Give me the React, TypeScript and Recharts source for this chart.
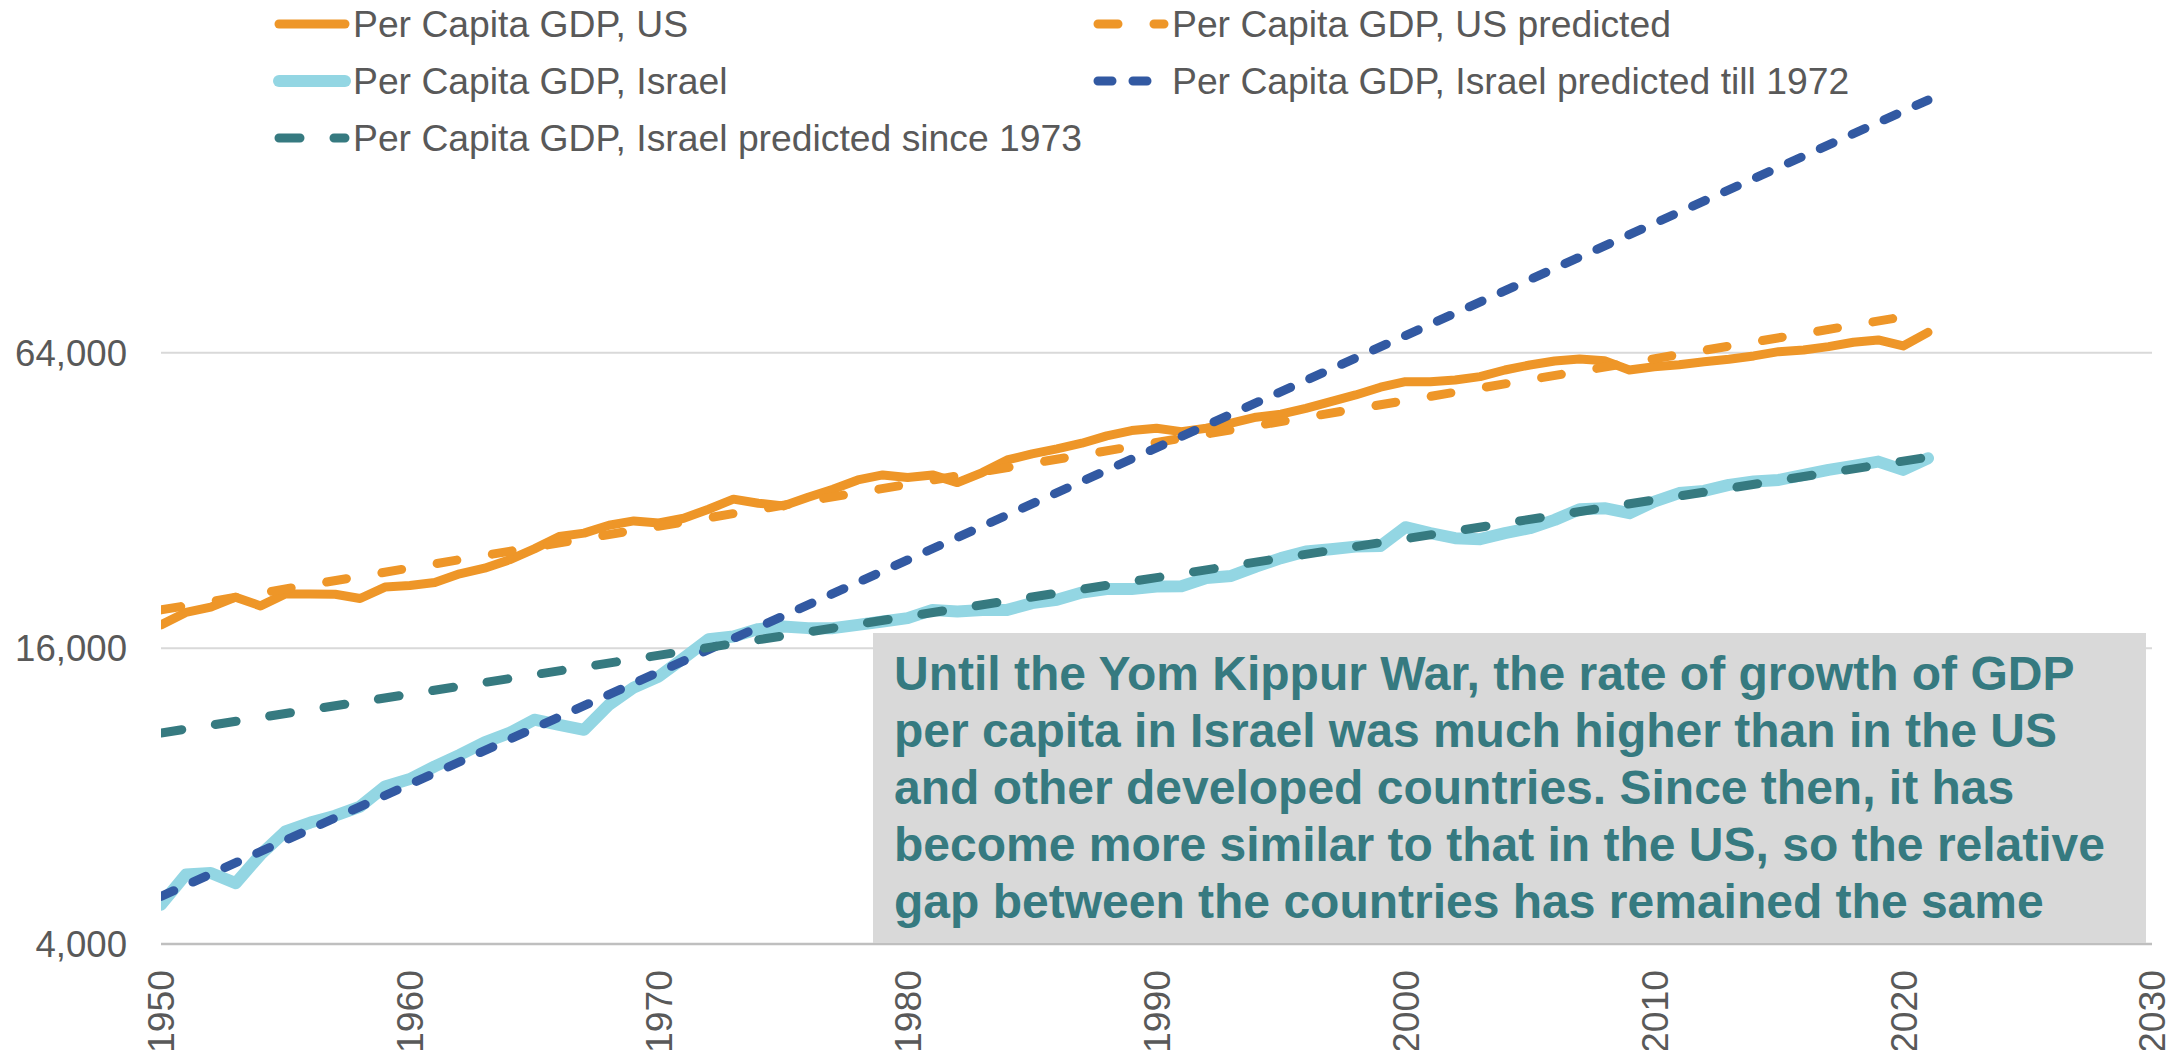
import React from 'react';
import { LineChart, Line, XAxis, YAxis, ReferenceLine } from 'recharts';

// ---------- data ----------
const years = [
  1950, 1951, 1952, 1953, 1954, 1955, 1956, 1957, 1958, 1959,
  1960, 1961, 1962, 1963, 1964, 1965, 1966, 1967, 1968, 1969,
  1970, 1971, 1972, 1973, 1974, 1975, 1976, 1977, 1978, 1979,
  1980, 1981, 1982, 1983, 1984, 1985, 1986, 1987, 1988, 1989,
  1990, 1991, 1992, 1993, 1994, 1995, 1996, 1997, 1998, 1999,
  2000, 2001, 2002, 2003, 2004, 2005, 2006, 2007, 2008, 2009,
  2010, 2011, 2012, 2013, 2014, 2015, 2016, 2017, 2018, 2019,
  2020, 2021,
];

const usGdp = [
  17860, 18930, 19410, 20340, 19520, 20650, 20650, 20620, 20210, 21320,
  21480, 21780, 22690, 23300, 24230, 25510, 27020, 27460, 28500, 29080,
  28800, 29450, 30720, 32200, 31600, 31200, 32500, 33740, 35240, 36080,
  35630, 36080, 34800, 36480, 38710, 39810, 40760, 41860, 43320, 44410,
  44910, 44200, 44910, 45970, 47280, 47950, 49310, 50870, 52490, 54430,
  55870, 55870, 56310, 57190, 59010, 60410, 61550, 62140, 61650, 59010,
  59930, 60500, 61350, 62050, 63030, 64300, 64810, 65830, 67190, 67930,
  66050, 70400,
];

const israelGdp = [
  4810, 5540, 5580, 5320, 6080, 6780, 7070, 7300, 7620, 8370,
  8670, 9200, 9710, 10290, 10760, 11450, 11180, 10920, 12280, 13320,
  14020, 15280, 16700, 16910, 17510, 17720, 17590, 17590, 17860, 18140,
  18430, 19160, 19020, 19160, 19160, 19780, 20090, 20780, 21120, 21120,
  21380, 21400, 22240, 22470, 23480, 24420, 25190, 25470, 25780, 25850,
  28240, 27460, 26820, 26690, 27460, 28100, 29220, 30720, 30870, 30150,
  31840, 33130, 33480, 34430, 34970, 35240, 36080, 36940, 37640, 38400,
  36940, 39020,
];

// trend lines (straight on the log scale): first and last year
const trendYears = [1950, 2021];
const usPredicted = [19160, 77200];
const israelPredictedTill1972 = [5000, 209200];
const israelPredictedSince1973 = [10760, 39200];

const xTicks = [1950, 1960, 1970, 1980, 1990, 2000, 2010, 2020, 2030];
const yTicks = [4000, 16000, 64000];
const yDomain = [4000, 256000];

const seriesNames = [
  'Per Capita GDP, US',
  'Per Capita GDP, US predicted',
  'Per Capita GDP, Israel',
  'Per Capita GDP, Israel predicted till 1972',
  'Per Capita GDP, Israel predicted since 1973',
];

const noteLines = [
  'Until the Yom Kippur War, the rate of growth of GDP',
  'per capita in Israel was much higher than in the US',
  'and other developed countries. Since then, it has',
  'become more similar to that in the US, so the relative',
  'gap between the countries has remained the same',
];

// ---------- build tables ----------
const usData = years.map((year, i) => ({ year, v: usGdp[i] }));
const israelData = years.map((year, i) => ({ year, v: israelGdp[i] }));
const usPredData = trendYears.map((year, i) => ({ year, v: usPredicted[i] }));
const ilTillData = trendYears.map((year, i) => ({ year, v: israelPredictedTill1972[i] }));
const ilSinceData = trendYears.map((year, i) => ({ year, v: israelPredictedSince1973[i] }));

// ---------- styles ----------
const FONT = '"Liberation Sans", Arial, sans-serif';
const TEXT_GRAY = '#595959';
const ORANGE = '#EE9628';
const LIGHT_BLUE = '#93D6E3';
const DARK_BLUE = '#3259A2';
const TEAL = '#367A80';

const seriesStyles = [
  { color: ORANGE, width: 9, dash: undefined as string | undefined },
  { color: ORANGE, width: 9, dash: '20 36' },
  { color: LIGHT_BLUE, width: 12, dash: undefined as string | undefined },
  { color: DARK_BLUE, width: 9, dash: '14 21' },
  { color: TEAL, width: 9, dash: '21 34' },
];

const W = 2184;
const H = 1050;

const XTick = (props: any) => {
  const { x, y, payload } = props;
  return (
    <text
      x={0}
      y={0}
      dy="0.36em"
      transform={`translate(${x},${y}) rotate(-90)`}
      textAnchor="end"
      fill={TEXT_GRAY}
      fontSize={37.3}
      fontFamily={FONT}
    >
      {payload.value}
    </text>
  );
};

const Legend = () => {
  const colX = [274, 1093];
  const rowY = [24, 81, 138];
  const placement = [
    [0, 0],
    [1, 0],
    [0, 1],
    [1, 1],
    [0, 2],
  ];
  return (
    <svg
      width={W}
      height={180}
      style={{ position: 'absolute', left: 0, top: 0, pointerEvents: 'none' }}
    >
      {seriesNames.map((name, i) => {
        const [c, r] = placement[i];
        const x = colX[c];
        const y = rowY[r];
        const st = seriesStyles[i];
        return (
          <g key={name}>
            <line
              x1={x + 5}
              x2={x + 71}
              y1={y}
              y2={y}
              stroke={st.color}
              strokeWidth={st.width}
              strokeDasharray={st.dash}
              strokeLinecap="round"
            />
            <text
              x={x + 79}
              y={y + 13.4}
              fill={TEXT_GRAY}
              fontSize={37.3}
              fontFamily={FONT}
            >
              {name}
            </text>
          </g>
        );
      })}
    </svg>
  );
};

const Note = () => (
  <div
    style={{
      position: 'absolute',
      left: 873,
      top: 633,
      width: 1273,
      height: 310,
      boxSizing: 'border-box',
      background: '#D9D9D9',
      paddingLeft: 21,
      paddingTop: 12,
      fontFamily: FONT,
      fontWeight: 'bold',
      fontSize: 48,
      lineHeight: '57px',
      color: TEAL,
    }}
  >
    {noteLines.map((l) => (
      <div key={l} style={{ whiteSpace: 'nowrap' }}>
        {l}
      </div>
    ))}
  </div>
);

export default function App() {
  const datasets = [usData, usPredData, israelData, ilTillData, ilSinceData];
  return (
    <div
      style={{
        position: 'fixed',
        left: 0,
        top: 0,
        width: W,
        height: H,
        background: '#ffffff',
        overflow: 'hidden',
      }}
    >
      <LineChart
        width={W}
        height={H}
        margin={{ top: 57, right: 32, bottom: 0, left: 0 }}
      >
        <XAxis
          type="number"
          dataKey="year"
          domain={[1950, 2030]}
          ticks={xTicks}
          allowDataOverflow
          height={106}
          tickSize={0}
          tickMargin={26}
          tickLine={false}
          axisLine={{ stroke: '#BFBFBF', strokeWidth: 2.5 }}
          tick={<XTick />}
          interval={0}
        />
        <YAxis
          type="number"
          scale="log"
          domain={yDomain}
          ticks={yTicks}
          allowDataOverflow
          width={161}
          tickSize={0}
          tickMargin={34}
          tickLine={false}
          axisLine={false}
          interval={0}
          tickFormatter={(v: number) => v.toLocaleString('en-US')}
          tick={{ fill: TEXT_GRAY, fontSize: 36.6, fontFamily: FONT }}
        />
        {yTicks
          .filter((t) => t > yDomain[0])
          .map((t) => (
            <ReferenceLine key={t} y={t} stroke="#D9D9D9" strokeWidth={2} />
          ))}
        {datasets.map((d, i) => (
          <Line
            key={seriesNames[i]}
            data={d}
            dataKey="v"
            name={seriesNames[i]}
            type="linear"
            stroke={seriesStyles[i].color}
            strokeWidth={seriesStyles[i].width}
            strokeDasharray={seriesStyles[i].dash}
            strokeLinecap="round"
            strokeLinejoin="round"
            dot={false}
            activeDot={false}
            isAnimationActive={false}
          />
        ))}
      </LineChart>
      <Legend />
      <Note />
    </div>
  );
}
